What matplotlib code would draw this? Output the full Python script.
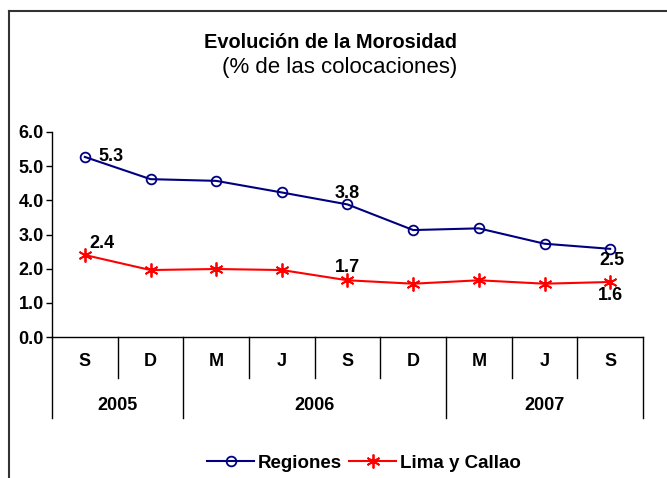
import matplotlib.pyplot as plt
from matplotlib.lines import Line2D

plt.rcParams['font.family'] = ['Liberation Sans', 'DejaVu Sans']

# --- Data ---
months = ['S', 'D', 'M', 'J', 'S', 'D', 'M', 'J', 'S']
years = ['2005', '2006', '2007']
year_bounds = [0, 2, 6, 9]  # month index where each year starts/ends
regiones = [5.27, 4.62, 4.57, 4.23, 3.88, 3.13, 3.18, 2.73, 2.58]
lima = [2.40, 1.96, 1.99, 1.96, 1.66, 1.56, 1.66, 1.56, 1.61]

W, H = 667, 478
fig = plt.figure(figsize=(W / 100, H / 100), dpi=100)

# plot area in pixel coords
x0, x1 = 52, 643
ytop, ybot = 132, 337
ax = fig.add_axes([x0 / W, 1 - ybot / H, (x1 - x0) / W, (ybot - ytop) / H])

xs = [i + 0.5 for i in range(len(months))]
ax.plot(xs, regiones, color='#000080', lw=1.5, marker='o', ms=7,
        mfc='none', mec='#000080', mew=1.3, label='Regiones')
ax.plot(xs, lima, color='#ff0000', lw=1.5, marker=(6, 2, 0), ms=10,
        mec='#ff0000', mew=1.3, label='Lima y Callao')

ax.set_xlim(0, 9)
ax.set_ylim(0, 6)
ax.set_yticks([0, 1, 2, 3, 4, 5, 6])
ax.set_yticklabels([f'{v:.1f}' for v in range(7)], fontsize=13, fontweight='bold')
ax.tick_params(axis='y', direction='out', length=4, width=1, pad=2)
ax.set_xticks([])
for s in ['top', 'right']:
    ax.spines[s].set_visible(False)
ax.spines['left'].set_linewidth(1)
ax.spines['bottom'].set_linewidth(1)

# data labels (offsets in points)
lab = dict(fontsize=13, fontweight='bold', color='black', textcoords='offset points', va='center')
ax.annotate('5.3', (xs[0], regiones[0]), xytext=(10, 0), ha='left', **lab)
ax.annotate('3.8', (xs[4], regiones[4]), xytext=(0, 8), ha='center', **lab)
ax.annotate('2.5', (xs[8], regiones[8]), xytext=(1, -8.5), ha='center', **lab)
ax.annotate('2.4', (xs[0], lima[0]), xytext=(3, 8), ha='left', **lab)
ax.annotate('1.7', (xs[4], lima[4]), xytext=(0, 9), ha='center', **lab)
ax.annotate('1.6', (xs[8], lima[8]), xytext=(0, -10), ha='center', **lab)

# category table below axis
ah = ybot - ytop
tr = ax.get_xaxis_transform()
for i in range(len(months) + 1):
    depth = 81 if i in year_bounds else 41
    ax.add_line(Line2D([i, i], [0, -depth / ah], transform=tr, color='black', lw=1, clip_on=False))
for i, m in enumerate(months):
    ax.text(i + 0.5, -24 / ah, m, transform=tr, ha='center', va='center', fontsize=13, fontweight='bold')
for k, yr in enumerate(years):
    mid = (year_bounds[k] + year_bounds[k + 1]) / 2
    ax.text(mid, -68 / ah, yr, transform=tr, ha='center', va='center', fontsize=13, fontweight='bold')

# titles
fig.text(331 / W, 1 - 42 / H, 'Evolución de la Morosidad', ha='center', va='center', fontsize=14.4, fontweight='bold')
fig.text(340 / W, 1 - 68 / H, '(% de las colocaciones)', ha='center', va='center', fontsize=16)

# legend
fig.legend(loc='center', bbox_to_anchor=(364 / W, 1 - 463 / H), ncol=2, frameon=False,
           prop={'weight': 'bold', 'size': 13.5}, handlelength=2.5, columnspacing=0.4, handletextpad=0.2)

# outer frame (left and top edges)
fig.add_artist(Line2D([9 / W, 9 / W], [0, 1 - 11 / H], transform=fig.transFigure, color='#333333', lw=1.5))
fig.add_artist(Line2D([9 / W, 1], [1 - 11 / H, 1 - 11 / H], transform=fig.transFigure, color='#333333', lw=1.5))

fig.savefig('out.png', dpi=100)
